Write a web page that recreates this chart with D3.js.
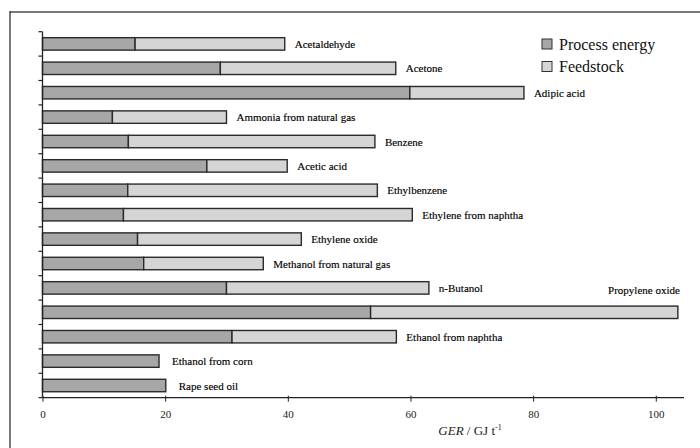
<!DOCTYPE html>
<html><head><meta charset="utf-8">
<script src="https://cdn.jsdelivr.net/npm/d3@7"></script>
<style>body{margin:0;background:#fff}svg{display:block}
svg text{font-family:"Liberation Serif","Times New Roman",Tinos,"DejaVu Serif",serif;}
</style>
</head><body>
<svg id="c" width="700" height="448"></svg>
<script>
const categories = ["Acetaldehyde","Acetone","Adipic acid","Ammonia from natural gas","Benzene","Acetic acid","Ethylbenzene","Ethylene from naphtha","Ethylene oxide","Methanol from natural gas","n-Butanol","Propylene oxide","Ethanol from naphtha","Ethanol from corn","Rape seed oil"];
const processEnergy = [15.1,29.0,59.9,11.4,14.0,26.8,13.9,13.2,15.5,16.5,30.0,53.5,30.9,19.0,20.1];
const feedstock =     [24.4,28.6,18.6,18.6,40.2,13.1,40.7,47.1,26.7,19.5,33.0,50.1,26.8,0,0];
const xTicks = [0,20,40,60,80,100];
const seriesNames = ["Process energy","Feedstock"];
const colors = ["#a7a7a7","#d5d5d5"];

const svg = d3.select("#c");
const W = 700;
// frame
svg.append("line").attr("x1",10).attr("x2",700).attr("y1",12).attr("y2",12).attr("stroke","#7a7a7a").attr("stroke-width",2);
svg.append("line").attr("x1",10).attr("x2",10).attr("y1",11).attr("y2",448).attr("stroke","#333").attr("stroke-width",1.3);

const x = d3.scaleLinear().domain([0,104.6]).range([42.5,684]);
const y = d3.scaleBand().domain(categories).range([31.7,397.7]).paddingInner(0.49).paddingOuter(0.245);
const step = y.step();

// bars
const g = svg.append("g");
categories.forEach((c,i)=>{
  const yy = y(c), h = y.bandwidth();
  const p = processEnergy[i], f = feedstock[i];
  g.append("rect").attr("x",x(0)).attr("y",yy).attr("width",x(p)-x(0)).attr("height",h)
    .attr("fill",colors[0]).attr("stroke","#2a2a2a").attr("stroke-width",1.4);
  if (f>0) g.append("rect").attr("x",x(p)).attr("y",yy).attr("width",x(p+f)-x(p)).attr("height",h)
    .attr("fill",colors[1]).attr("stroke","#2a2a2a").attr("stroke-width",1.4);
  const end = x(p+f);
  const t = g.append("text").style("font-size","11px").attr("fill","#000")
    .attr("stroke","#000").attr("stroke-width",0.15).text(c);
  const tw = t.node().getComputedTextLength();
  t.attr("dominant-baseline","central");
  if (end + 10 + tw > W - 4) {
    t.attr("x", end + 2).attr("y", yy - step + h/2 + 2).attr("text-anchor","end");
  } else {
    const gap = f>0 ? 10 : 13;
    t.attr("x", end + gap).attr("y", yy + h/2);
  }
});

// y axis line and ticks at band boundaries
svg.append("line").attr("x1",x(0)).attr("x2",x(0)).attr("y1",31.7).attr("y2",397.7).attr("stroke","#222").attr("stroke-width",1.3);
d3.range(categories.length+1).forEach(i=>{
  const yy = 31.7 + i*step;
  svg.append("line").attr("x1",x(0)-4).attr("x2",x(0)).attr("y1",yy).attr("y2",yy).attr("stroke","#222").attr("stroke-width",1.2);
});

// x axis
const xa = svg.append("g").attr("transform","translate(0,397.7)")
  .call(d3.axisBottom(x).tickValues(xTicks).tickSize(4).tickSizeOuter(0).tickPadding(9));
xa.attr("font-family",null).attr("font-size",null);
xa.select(".domain").attr("stroke","#222").attr("stroke-width",1.3).attr("d",`M${x(0)},0H684`);
xa.selectAll(".tick line").attr("stroke","#222").attr("y1",-2);
xa.selectAll(".tick text").style("font-size","11px").attr("fill","#222");

const title = svg.append("text").attr("x",470).attr("y",435).attr("text-anchor","middle")
  .style("font-size","13px").attr("fill","#222");
title.append("tspan").attr("font-style","italic").text("GER");
title.append("tspan").text("  / GJ t");
title.append("tspan").style("font-size","8px").attr("dy",-5).text("-1");

// legend
seriesNames.forEach((s,i)=>{
  const ly = 44 + i*22.5;
  svg.append("rect").attr("x",542).attr("y",ly-5).attr("width",10).attr("height",10)
    .attr("fill",colors[i]).attr("stroke","#333").attr("stroke-width",1);
  svg.append("text").attr("x",559).attr("y",ly).attr("dominant-baseline","central")
    .style("font-size","16px").attr("fill","#111").text(s);
});
</script>
</body></html>
